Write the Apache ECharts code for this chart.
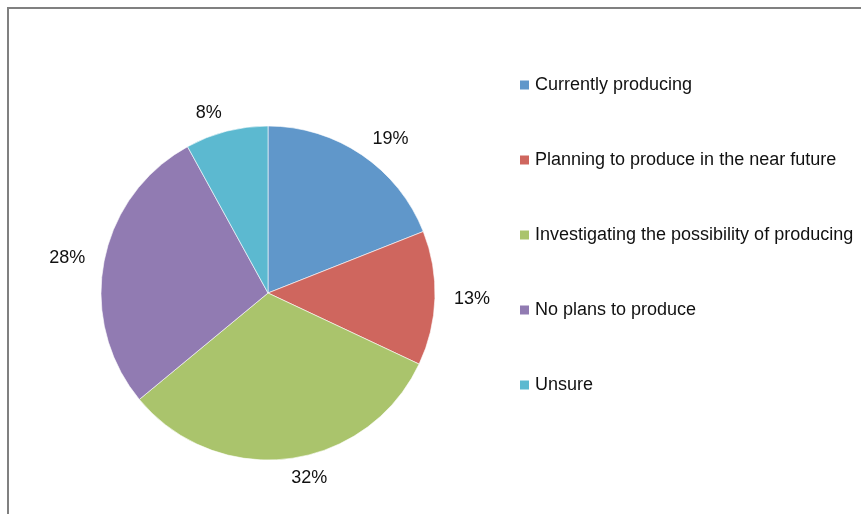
<!DOCTYPE html>
<html>
<head>
<meta charset="utf-8">
<script src="https://cdn.jsdelivr.net/npm/echarts@6/dist/echarts.min.js"></script>
<style>
  html, body { margin: 0; padding: 0; background: #fff; }
  #chart { width: 861px; height: 514px; }
</style>
</head>
<body>
<div id="chart"></div>
<script>
// Survey response categories and their shares (percent)
const categories = [
  'Currently producing',
  'Planning to produce in the near future',
  'Investigating the possibility of producing',
  'No plans to produce',
  'Unsure'
];
const shares = [19, 13, 32, 28, 8];
const colors = ['#6097CA', '#CF665E', '#AAC46C', '#917BB2', '#5CB9D0'];

const chart = echarts.init(document.getElementById('chart'));

const seriesData = categories.map((name, i) => ({
  name: name,
  value: shares[i],
  itemStyle: { color: colors[i] }
}));

chart.setOption({
  animation: false,
  backgroundColor: '#ffffff',
  graphic: [{
    type: 'rect',
    silent: true,
    shape: { x: 8, y: 8, width: 1000, height: 1000 },
    style: { fill: 'none', stroke: '#808080', lineWidth: 2 }
  }],
  legend: {
    orient: 'vertical',
    left: 513,
    top: 71,
    itemWidth: 11,
    itemHeight: 11,
    itemGap: 57,
    icon: 'rect',
    textStyle: { fontFamily: 'Liberation Sans, Arial, sans-serif', fontSize: 18, color: '#111' },
    data: categories
  },
  series: [{
    type: 'pie',
    center: [268, 293],
    radius: 167,
    startAngle: 90,
    clockwise: true,
    itemStyle: { borderColor: '#ffffff', borderWidth: 0.6 },
    label: {
      show: true,
      position: 'outside',
      formatter: '{c}%',
      fontFamily: 'Liberation Sans, Arial, sans-serif',
      fontSize: 18,
      color: '#111',
      distanceToLabelLine: 0
    },
    labelLine: { show: false, length: 19, length2: 0 },
    emphasis: { disabled: true },
    data: seriesData
  }]
});
</script>
</body>
</html>
